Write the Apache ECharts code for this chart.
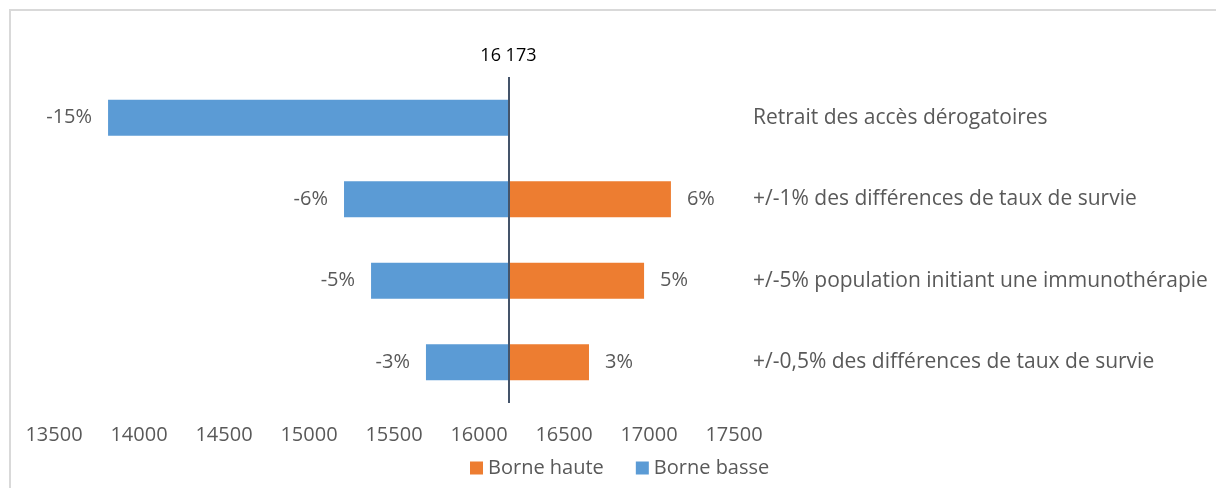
<!DOCTYPE html>
<html>
<head>
<meta charset="utf-8">
<style>
	body { margin: 0; background: #fff; }
	#wrap { position: relative; width: 1216px; height: 488px; overflow: hidden; }
	#chart { width: 1216px; height: 488px; }
	#frame {
		position: absolute; left: 9px; top: 9px; right: -10px; bottom: -10px;
		border-top: 2px solid #d9d9d9; border-left: 2px solid #d9d9d9;
		pointer-events: none;
	}
</style>
<script src="https://cdn.jsdelivr.net/npm/echarts@6/dist/echarts.min.js"></script>
</head>
<body>
<div id="wrap">
	<div id="chart"></div>
	<div id="frame"></div>
</div>
<script>
	// valeur de référence
	var base = 16173
	var categories = [
		'Retrait des accès dérogatoires',
		'+/-1% des différences de taux de survie',
		'+/-5% population initiant une immunothérapie',
		'+/-0,5% des différences de taux de survie'
	]
	var lowValues = [13818, 15206, 15365, 15688]
	var highValues = [null, 17129, 16971, 16647]
	var lowPct = ['-15%', '-6%', '-5%', '-3%']
	var highPct = ['', '6%', '5%', '3%']
	var xTicks = [13500, 14000, 14500, 15000, 15500, 16000, 16500, 17000, 17500]

	var font = 'Open Sans'
	var textColor = '#595959'

	var lowBase = [], lowDiff = [], highBase = [], highDiff = []
	for (var i = 0; i < categories.length; i++) {
		lowBase[i] = lowValues[i]
		lowDiff[i] = base - lowValues[i]
		highBase[i] = highValues[i] == null ? null : base
		highDiff[i] = highValues[i] == null ? null : highValues[i] - base
	}

	var chart = echarts.init(document.getElementById('chart'))
	chart.setOption({
		animation: false,
		textStyle: { fontFamily: font },
		grid: { left: 54, right: 482, top: 77, bottom: 85 },
		legend: {
			data: ['Borne haute', 'Borne basse'],
			left: 465,
			top: 453,
			icon: 'rect',
			itemWidth: 13,
			itemHeight: 13,
			itemGap: 32,
			textStyle: { color: textColor, fontSize: 20, fontFamily: font }
		},
		xAxis: {
			type: 'value',
			min: xTicks[0],
			max: xTicks[xTicks.length - 1],
			interval: 500,
			axisLine: { show: false },
			axisTick: { show: false },
			splitLine: { show: false },
			axisLabel: {
				color: textColor, fontSize: 20, margin: 22, fontFamily: font,
				formatter: function (v) { return String(v) }
			}
		},
		yAxis: {
			type: 'category',
			data: categories,
			inverse: true,
			position: 'right',
			axisLine: { show: false },
			axisTick: { show: false },
			axisLabel: { color: textColor, fontSize: 21, align: 'left', margin: 19, fontFamily: font }
		},
		series: [
			{
				name: 'lowBase',
				type: 'bar',
				stack: 'low',
				silent: true,
				barWidth: 36,
				itemStyle: { color: 'transparent' },
				data: lowBase
			},
			{
				name: 'Borne basse',
				type: 'bar',
				stack: 'low',
				barWidth: 36,
				itemStyle: { color: '#5b9bd5' },
				label: {
					show: true,
					position: 'left',
					distance: 16,
					color: textColor,
					fontSize: 20,
					fontFamily: font,
					formatter: function (p) { return lowPct[p.dataIndex] }
				},
				markLine: {
					silent: true,
					symbol: 'none',
					lineStyle: { color: '#44546a', width: 2, type: 'solid' },
					label: {
						position: 'start',
						distance: 12,
						color: '#000',
						fontSize: 18,
						fontFamily: font,
						formatter: '16 173'
					},
					data: [{ xAxis: base }]
				},
				data: lowDiff
			},
			{
				name: 'highBase',
				type: 'bar',
				stack: 'high',
				silent: true,
				barWidth: 36,
				barGap: '-100%',
				itemStyle: { color: 'transparent' },
				data: highBase
			},
			{
				name: 'Borne haute',
				type: 'bar',
				stack: 'high',
				barWidth: 36,
				barGap: '-100%',
				itemStyle: { color: '#ed7d31' },
				label: {
					show: true,
					position: 'right',
					distance: 16,
					color: textColor,
					fontSize: 20,
					fontFamily: font,
					formatter: function (p) { return highPct[p.dataIndex] }
				},
				data: highDiff
			}
		]
	})
</script>
</body>
</html>
